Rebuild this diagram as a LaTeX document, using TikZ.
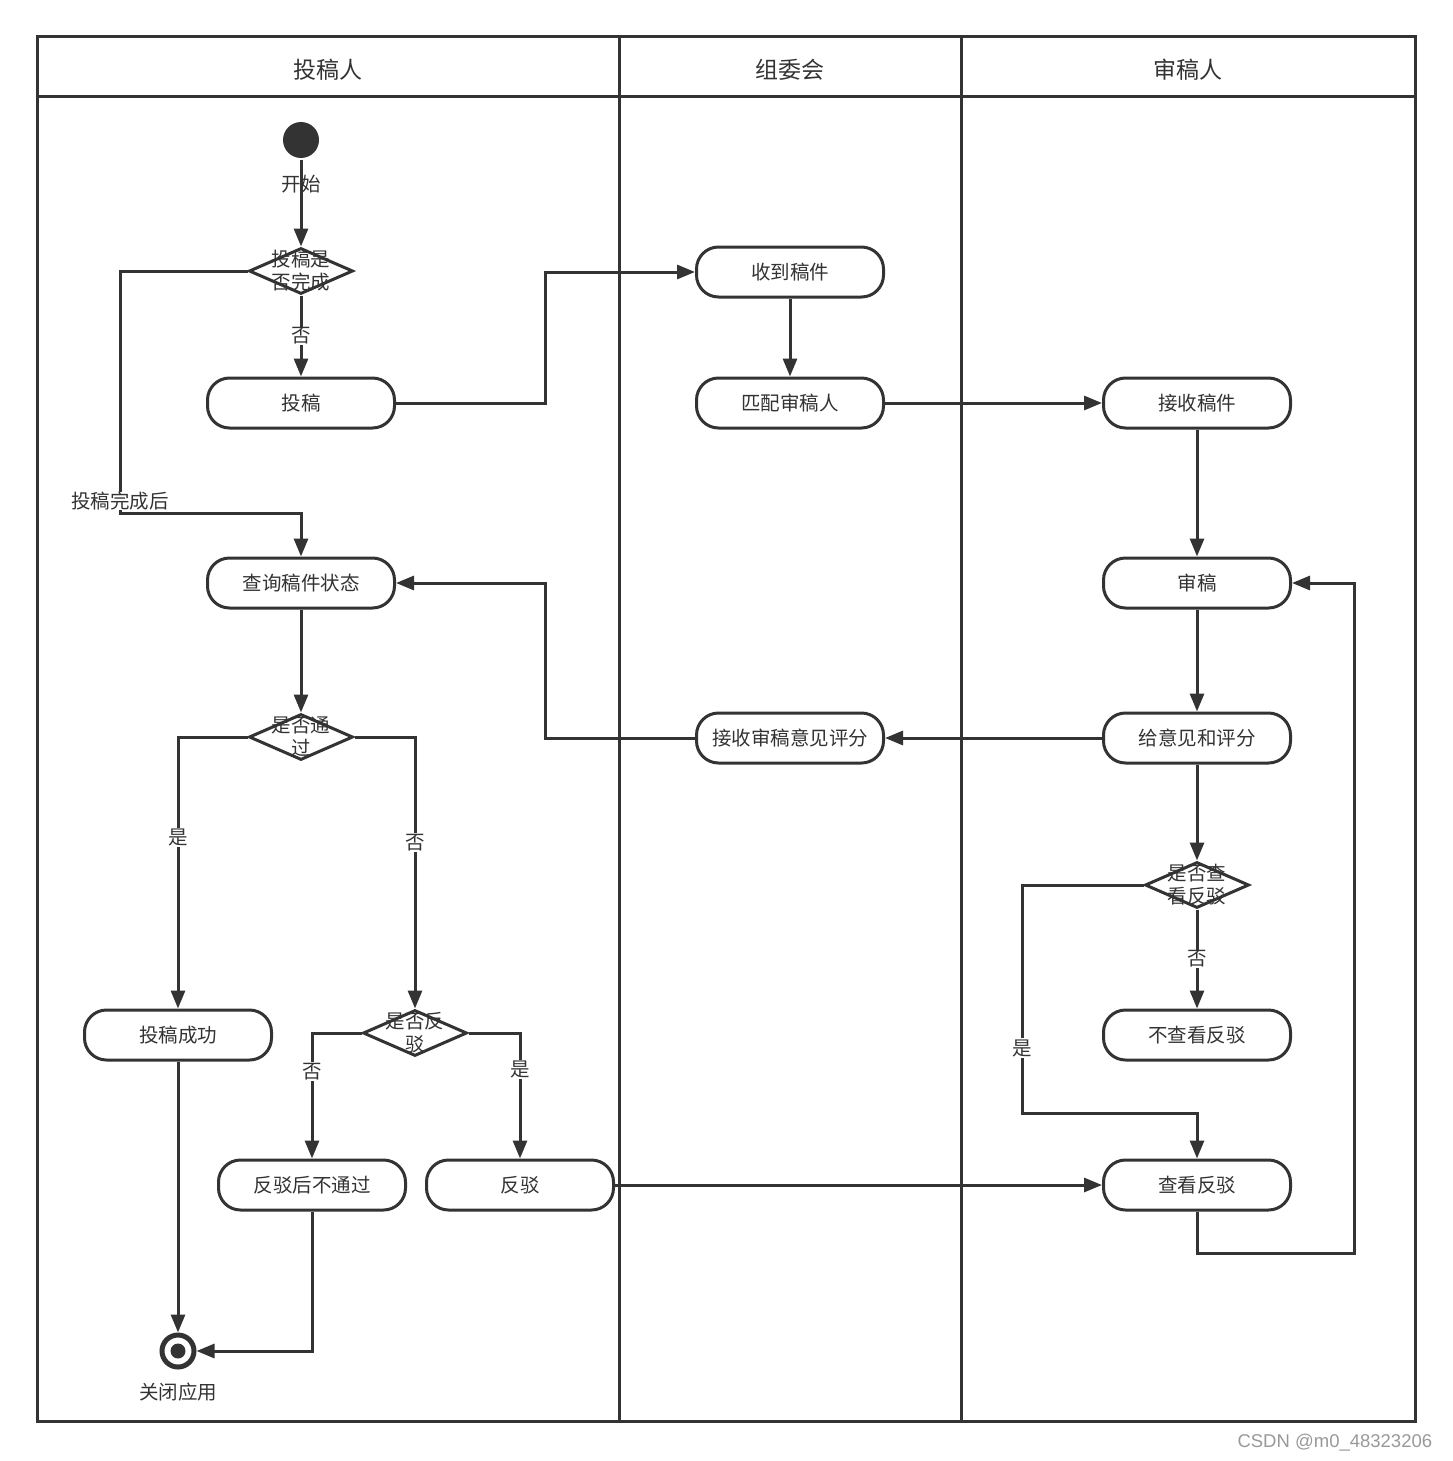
\documentclass[tikz,border=0pt]{standalone}
\usepackage{fontspec}
\setmainfont{Noto Sans CJK SC}
\newfontfamily\markfont{Liberation Sans}
\usetikzlibrary{%
  arrows.meta,%
  shapes.geometric,% diamond
  positioning%
}
\definecolor{ink}{HTML}{333333}

\begin{document}
\begin{tikzpicture}[
    x=1pt,y=-1pt,
    >={Triangle[length=18pt,width=14pt]},
    line width=3pt,draw=ink,
    every node/.style={font=\fontsize{19.5}{22}\selectfont,text=ink},
    action/.style={rectangle,draw,fill=white,rounded corners=22pt,
        minimum width=187pt,minimum height=50pt},
    decision/.style={diamond,draw,fill=white,minimum width=104pt,
        minimum height=46pt,inner sep=0pt},
    dtext/.style={align=center,font=\fontsize{19.5}{23}\selectfont},
    guard/.style={fill=white,inner sep=1pt},
    flow/.style={->},
    lane/.style={font=\fontsize{23}{26}\selectfont}
  ]
    \useasboundingbox (0,0) rectangle (1452,1461);

    % swimlanes
    \draw (37,37) rectangle (1415,1421);
    \draw (37,97) -- (1415,97);
    \draw (619,37) -- (619,1421);
    \draw (961,37) -- (961,1421);
    \node[lane] (hdA) at (328,70)  {投稿人};
    \node[lane] (hdB) at (790,70)  {组委会};
    \node[lane] (hdC) at (1188,70) {审稿人};

    % author lane
    \node[circle,fill=ink,minimum size=36pt,inner sep=0pt] (start) at (301,140) {};
    \node[decision] (done)   at (301,271)  {};
    \node[dtext]    (doneT)  at (done)     {投稿是\\否完成};
    \node[action]   (submit) at (301,403)  {投稿};
    \node[action]   (query)  at (301,583)  {查询稿件状态};
    \node[decision] (pass)   at (301,737)  {};
    \node[dtext]    (passT)  at (pass)     {是否通\\过};
    \node[action]   (ok)     at (178,1035) {投稿成功};
    \node[decision] (rebut)  at (415,1033) {};
    \node[dtext]    (rebutT) at (rebut)    {是否反\\驳};
    \node[action]   (fail)   at (312,1185) {反驳后不通过};
    \node[action]   (reply)  at (520,1185) {反驳};
    \node[circle,draw,line width=5pt,minimum size=32pt,inner sep=0pt] (stop) at (178,1351) {};
    \fill[ink] (stop) circle (7.5pt);

    % committee lane
    \node[action] (recv)  at (790,272) {收到稿件};
    \node[action] (match) at (790,403) {匹配审稿人};
    \node[action] (back)  at (790,738) {接收审稿意见评分};

    % reviewer lane
    \node[action]   (take)   at (1197,403)  {接收稿件};
    \node[action]   (review) at (1197,583)  {审稿};
    \node[action]   (score)  at (1197,738)  {给意见和评分};
    \node[decision] (look)   at (1197,885)  {};
    \node[dtext]    (lookT)  at (look)      {是否查\\看反驳};
    \node[action]   (skip)   at (1197,1035) {不查看反驳};
    \node[action]   (read)   at (1197,1185) {查看反驳};

    % connectors
    \draw[flow] (start) -- (done);
    \node (startL) at (301,184) {开始};
    \draw[flow] (done) -- node[guard] (noA) {否} (submit);
    \coordinate (after) at (120,513);
    \draw[flow] (done.west) -| (after) -| (query.north);
    \node[guard,inner sep=0pt] (afterL) at (120,501) {投稿完成后};
    \draw[flow] (submit.east) -- (545,403) |- (recv.west);
    \draw[flow] (recv) -- (match);
    \draw[flow] (match.east) -- (take.west);
    \draw[flow] (take) -- (review);
    \draw[flow] (review) -- (score);
    \draw[flow] (score.west) -- (back.east);
    \draw[flow] (back.west) -- (545,738) |- (query.east);
    \draw[flow] (query) -- (pass);
    \draw[flow] (pass.west) -| node[guard,pos=0.685] (yesA) {是} (ok.north);
    \draw[flow] (pass.east) -| node[guard,pos=0.694] (noB) {否} (rebut.north);
    \draw[flow] (rebut.west) -| node[guard,pos=0.654] (noC) {否} (fail.north);
    \draw[flow] (rebut.east) -| node[guard,pos=0.646] (yesB) {是} (reply.north);
    \draw[flow] (ok) -- (stop);
    \draw[flow] (fail.south) |- (stop.east);
    \node (stopL) at (178,1392) {关闭应用};
    \draw[flow] (reply.east) -- (read.west);
    \draw[flow] (score) -- (look);
    \draw[flow] (look) -- node[guard] (noD) {否} (skip);
    \draw[flow] (look.west) -- (1022,885) -- node[guard,pos=0.715] (yesC) {是} (1022,1113) -| (read.north);
    \draw[flow] (read.south) -- (1197,1253) -| (1354,583) -- (review.east);

    % watermark
    \node[anchor=east,text=black!40,font=\markfont\fontsize{18.5}{20}\selectfont] (mark)
        at (1437,1443) {CSDN @m0\_48323206};
\end{tikzpicture}
\end{document}
